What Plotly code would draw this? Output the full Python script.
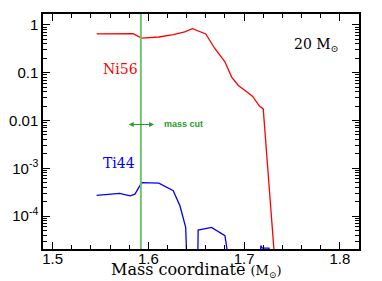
import plotly.graph_objects as go

# ---- data ----
ni56_mass = [1.546, 1.570, 1.584, 1.593, 1.611, 1.626, 1.638, 1.646, 1.660, 1.669,
             1.680, 1.687, 1.694, 1.702, 1.709, 1.716, 1.720, 1.732]
ni56_abund = [0.65, 0.67, 0.66, 0.53, 0.56, 0.63, 0.72, 0.84, 0.65, 0.33,
              0.17, 0.081, 0.054, 0.041, 0.032, 0.020, 0.0175, 1.2e-5]

ti44_mass = [1.546, 1.558, 1.570, 1.581, 1.586, 1.593, 1.611, 1.626, 1.633, 1.639,
             1.642, 1.651, 1.652, 1.666, 1.680, 1.692,
             1.714, 1.7175, 1.719, 1.726, 1.728]
ti44_abund = [2.7e-4, 2.8e-4, 2.97e-4, 2.65e-4, 2.87e-4, 5.0e-4, 4.9e-4, 3.4e-4, 1.64e-4, 5.8e-5,
              1e-6, 1e-6, 5.1e-5, 5.8e-5, 3.9e-5, 1e-6,
              1e-6, 2.4e-5, 2.12e-5, 2.12e-5, 1e-6]

mass_cut = 1.5922
ytick_vals = [1, 0.1, 0.01, 1e-3, 1e-4]
ytick_text = ["1", "0.1", "0.01", "10<sup>-3</sup>", "10<sup>-4</sup>"]

fig = go.Figure()
fig.add_trace(go.Scatter(x=ni56_mass, y=ni56_abund, mode="lines",
                         line=dict(color="#ff0000", width=1.3), showlegend=False))
fig.add_trace(go.Scatter(x=ti44_mass, y=ti44_abund, mode="lines",
                         line=dict(color="#0000ff", width=1.3), showlegend=False))

fig.add_shape(type="line", xref="x", yref="paper", x0=mass_cut, x1=mass_cut, y0=0, y1=1,
              line=dict(color="#74c274", width=2))

serif = "DejaVu Serif"
ann = [
    dict(x=1.5502, y=-0.917, text="Ni56", font=dict(color="#ff0000", size=14, family=serif)),
    dict(x=1.5502, y=-2.881, text="Ti44", font=dict(color="#0000ff", size=14, family=serif)),
    dict(x=1.750, y=-0.417, text="20 M<sub>⊙</sub>", font=dict(color="black", size=14, family=serif)),
    dict(x=1.6138, y=-2.083, text="<b>mass cut</b>",
         font=dict(color="#2a9a2a", size=9, family="Liberation Sans")),
]
for a in ann:
    fig.add_annotation(xref="x", yref="y", xanchor="left", yanchor="middle",
                       showarrow=False, **a)

fig.add_annotation(xref="x", yref="y", axref="x", ayref="y",
                   x=1.606, y=-2.083, ax=1.578, ay=-2.083, text="",
                   showarrow=True, arrowside="end+start", arrowhead=2,
                   arrowsize=0.9, arrowwidth=1.1, arrowcolor="#2a9a2a")

fig.add_annotation(xref="paper", yref="paper", x=0.486, y=-0.089,
                   xanchor="center", yanchor="middle", showarrow=False,
                   text="Mass coordinate <span style='font-size:13px'>(M<sub>⊙</sub>)</span>",
                   font=dict(color="black", size=16, family=serif))

axis_common = dict(showline=True, linecolor="black", linewidth=1.5, mirror="allticks",
                   ticks="inside", tickcolor="black", tickwidth=1.2, ticklen=7,
                   showgrid=False, zeroline=False, automargin=False,
                   tickfont=dict(family="Liberation Sans", size=15, color="black"))

fig.update_xaxes(range=[1.49, 1.82], tickmode="linear", tick0=1.5, dtick=0.1,
                 ticklabelstandoff=-5,
                 minor=dict(ticks="inside", dtick=0.02, tick0=1.5, ticklen=4,
                            tickcolor="black", tickwidth=1, showgrid=False),
                 **axis_common)
fig.update_yaxes(type="log", range=[-4.69, 0.23], tickmode="array", tickvals=ytick_vals,
                 ticktext=ytick_text,
                 minor=dict(ticks="inside", dtick="D1", ticklen=4,
                            tickcolor="black", tickwidth=1, showgrid=False),
                 **axis_common)

# page body has an 8px margin, so the figure is shrunk by 8px on each axis
fig.update_layout(width=374, height=273, margin=dict(l=35, r=23, t=6, b=32),
                  plot_bgcolor="white", paper_bgcolor="white")

fig.write_html("out.html")
